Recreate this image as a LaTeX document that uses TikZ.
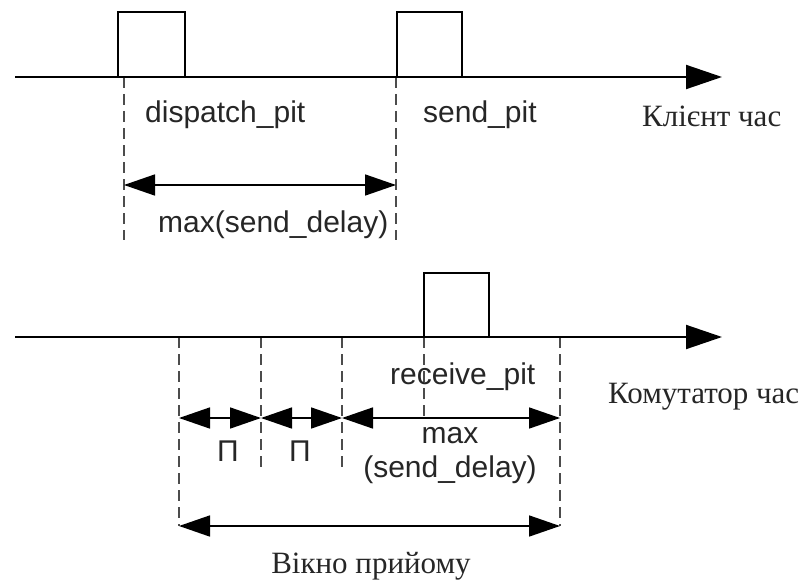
\documentclass[tikz,border=0pt]{standalone}
\usepackage{fontspec}
\setmainfont{Liberation Serif}
\newfontfamily\arialf{Liberation Sans}
\usetikzlibrary{arrows.meta}
\tikzset{
  axisline/.style={line width=2pt, -{Triangle[length=36pt,width=24pt]}},
  pulse/.style={line width=2pt, line join=miter},
  guide/.style={line width=1.2pt, draw=black!70, dash pattern=on 11pt off 6pt},
  dimline/.style={line width=1.6pt, {Triangle[length=31pt,width=21pt]}-{Triangle[length=31pt,width=21pt]}},
  lbl/.style={font=\arialf\fontsize{30}{36}\selectfont, inner sep=0pt, text=black!85},
  slbl/.style={font=\fontsize{31}{37}\selectfont, inner sep=0pt, text=black!85}
}
\begin{document}
\begin{tikzpicture}[x=1pt,y=-1pt]
\path[use as bounding box] (0,0) rectangle (805,583);
% ---------- top (client) ----------
\coordinate (A1s) at (15,77);
\coordinate (A1e) at (722,77);
\coordinate (p1a) at (118,77); \coordinate (p1b) at (118,12);
\coordinate (p1c) at (185,12); \coordinate (p1d) at (185,77);
\coordinate (p2a) at (397,77); \coordinate (p2b) at (397,12);
\coordinate (p2c) at (462,12); \coordinate (p2d) at (462,77);
\coordinate (t1a) at (124,77); \coordinate (t1b) at (124,240);
\coordinate (t2a) at (396,77); \coordinate (t2b) at (396,240);
\coordinate (d1l) at (124,185); \coordinate (d1r) at (396,185);
\draw[guide] (t1a) -- (t1b);
\draw[guide] (t2a) -- (t2b);
\draw[axisline] (A1s) -- (A1e);
\draw[pulse] (p1a) -- (p1b) -- (p1c) -- (p1d);
\draw[pulse] (p2a) -- (p2b) -- (p2c) -- (p2d);
\draw[dimline] (d1l) -- (d1r);
\node[lbl, anchor=base west] (dp) at (145,123) {dispatch\_pit};
\node[lbl, anchor=base west] (sp) at (423,123) {send\_pit};
\node[slbl, anchor=base west] (kc) at (642,126) {Клієнт час};
\node[lbl, anchor=base west] (msd) at (158,232) {max(send\_delay)};
% ---------- bottom (switch) ----------
\coordinate (A2s) at (15,337);
\coordinate (A2e) at (722,337);
\coordinate (p3a) at (424,337); \coordinate (p3b) at (424,273);
\coordinate (p3c) at (489,273); \coordinate (p3d) at (489,337);
\coordinate (g1a) at (179,337); \coordinate (g1b) at (179,526);
\coordinate (g2a) at (261,337); \coordinate (g2b) at (261,472);
\coordinate (g3a) at (342,337); \coordinate (g3b) at (342,472);
\coordinate (g4a) at (424,337); \coordinate (g4b) at (424,418);
\coordinate (g5a) at (560,337); \coordinate (g5b) at (560,526);
\coordinate (r1) at (179,418); \coordinate (r2) at (261,418);
\coordinate (r3) at (342,418); \coordinate (r4) at (560,418);
\coordinate (w1) at (179,526); \coordinate (w2) at (560,526);
\draw[guide] (g1a) -- (g1b);
\draw[guide] (g2a) -- (g2b);
\draw[guide] (g3a) -- (g3b);
\draw[guide] (g4a) -- (g4b);
\draw[guide] (g5a) -- (g5b);
\draw[axisline] (A2s) -- (A2e);
\draw[pulse] (p3a) -- (p3b) -- (p3c) -- (p3d);
\draw[dimline] (r1) -- (r2);
\draw[dimline] (r2) -- (r3);
\draw[dimline] (r3) -- (r4);
\draw[dimline] (w1) -- (w2);
\node[lbl, anchor=base west] (rp) at (390,384) {receive\_pit};
\node[slbl, anchor=base west] (kmc) at (608,403) {Комутатор час};
\node[lbl, anchor=base] (P1) at (228,461) {П};
\node[lbl, anchor=base] (P2) at (300,461) {П};
\node[lbl, anchor=base] (mx) at (450,443) {max};
\node[lbl, anchor=base] (sd) at (450,477) {(send\_delay)};
\node[slbl, anchor=base] (vp) at (371,573) {Вікно прийому};
\end{tikzpicture}
\end{document}
